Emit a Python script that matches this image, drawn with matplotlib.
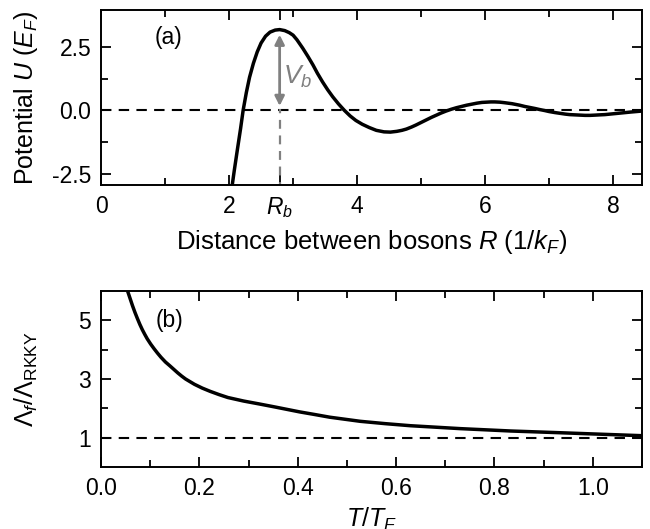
import numpy as np
import matplotlib
matplotlib.use("Agg")
import matplotlib.pyplot as plt
from matplotlib.ticker import MultipleLocator, FixedLocator

plt.rcParams['font.family'] = ['Liberation Sans', 'DejaVu Sans']
plt.rcParams['mathtext.fontset'] = 'custom'
plt.rcParams['mathtext.rm'] = 'Liberation Sans'
plt.rcParams['mathtext.it'] = 'Liberation Sans:italic'
plt.rcParams['mathtext.bf'] = 'Liberation Sans:bold'

# (a) potential between bosons
R = [2.03, 2.08, 2.13, 2.18, 2.22, 2.27, 2.32, 2.38, 2.44, 2.50, 2.57, 2.64,
     2.72, 2.79, 2.87, 2.94, 3.00, 3.06, 3.15, 3.23, 3.31, 3.38, 3.46, 3.54,
     3.62, 3.71, 3.80, 3.89, 3.98, 4.08, 4.19, 4.30, 4.42, 4.52, 4.62, 4.70,
     4.77, 4.85, 4.92, 5.00, 5.08, 5.16, 5.24, 5.31, 5.39, 5.47, 5.55, 5.63,
     5.71, 5.79, 5.87, 5.95, 6.02, 6.09, 6.15, 6.23, 6.30, 6.42, 6.54, 6.62,
     6.70, 6.78, 6.85, 6.93, 7.00, 7.09, 7.17, 7.25, 7.32, 7.40, 7.48, 7.56,
     7.64, 7.72, 7.79, 7.87, 7.95, 8.03, 8.11, 8.19, 8.27, 8.36, 8.45]
U = [-3.30, -2.40, -1.55, -0.72, 0.00, 0.70, 1.30, 1.85, 2.30, 2.65, 2.92, 3.08,
     3.16, 3.18, 3.14, 3.06, 2.96, 2.78, 2.45, 2.13, 1.79, 1.46, 1.12, 0.81,
     0.53, 0.25, 0.00, -0.22, -0.40, -0.55, -0.68, -0.79, -0.85, -0.86, -0.83, -0.79,
     -0.74, -0.66, -0.58, -0.48, -0.38, -0.28, -0.19, -0.11, -0.03, 0.04, 0.10, 0.15,
     0.20, 0.24, 0.28, 0.31, 0.32, 0.33, 0.33, 0.32, 0.30, 0.26, 0.20, 0.15,
     0.11, 0.07, 0.03, -0.01, -0.05, -0.09, -0.12, -0.15, -0.17, -0.18, -0.19, -0.20,
     -0.20, -0.19, -0.18, -0.17, -0.15, -0.13, -0.11, -0.09, -0.07, -0.05, -0.03]
Rb = 2.79

# (b) ratio of lengths vs temperature
T = [0.050, 0.054, 0.059, 0.064, 0.069, 0.074, 0.079, 0.084, 0.089, 0.094,
     0.101, 0.108, 0.115, 0.122, 0.131, 0.140, 0.148, 0.156, 0.164, 0.172,
     0.181, 0.190, 0.206, 0.222, 0.240, 0.258, 0.290, 0.322, 0.353, 0.380,
     0.404, 0.435, 0.465, 0.496, 0.527, 0.578, 0.629, 0.680, 0.731, 0.782,
     0.833, 0.884, 0.935, 1.00, 1.05, 1.10]
ratio = [6.40, 6.00, 5.75, 5.50, 5.27, 5.06, 4.86, 4.68, 4.52, 4.37,
         4.19, 4.03, 3.88, 3.74, 3.58, 3.45, 3.33, 3.21, 3.10, 3.00,
         2.91, 2.82, 2.69, 2.58, 2.47, 2.37, 2.25, 2.15, 2.05, 1.96,
         1.88, 1.79, 1.70, 1.63, 1.56, 1.48, 1.41, 1.36, 1.31, 1.27,
         1.23, 1.20, 1.17, 1.13, 1.10, 1.07]

fig = plt.figure(figsize=(6.5, 5.29), dpi=100)
ax1 = fig.add_axes([0.1554, 0.650, 0.8323, 0.331])
ax2 = fig.add_axes([0.1554, 0.117, 0.8323, 0.333])

for ax in (ax1, ax2):
    ax.tick_params(which='both', direction='in', top=True, right=True,
                   labelsize=16.5, width=1.3, pad=7)
    ax.tick_params(which='major', length=7)
    ax.tick_params(which='minor', length=5)
    for s in ax.spines.values():
        s.set_linewidth(1.4)

# top panel
ax1.axhline(0, color='k', ls=(0, (5, 3.5)), lw=1.5)
ax1.plot([Rb, Rb], [-3.2, 0.05], color='gray', ls=(0, (4, 3)), lw=1.6)
ax1.plot(R, U, color='k', lw=2.5)
ax1.annotate('', xy=(Rb, 2.98), xytext=(Rb, 0.17),
             arrowprops=dict(arrowstyle='<|-|>', color='gray', lw=2,
                             mutation_scale=14, shrinkA=0, shrinkB=0))
ax1.text(Rb + 0.05, 1.3, '$V_b$', color='gray', fontsize=19, va='center')
ax1.text(1.06, 2.85, '(a)', fontsize=16.5, ha='center', va='center')
ax1.set_xlim(0, 8.45)
ax1.set_ylim(-2.95, 3.95)
ax1.xaxis.set_major_locator(FixedLocator([0, 2, Rb, 4, 6, 8]))
ax1.set_xticklabels(['0', '2', '$R_b$', '4', '6', '8'])
ax1.xaxis.set_minor_locator(FixedLocator([1, 3, 5, 7]))
ax1.yaxis.set_major_locator(FixedLocator([-2.5, 0, 2.5]))
ax1.set_yticklabels(['-2.5', '0.0', '2.5'])
ax1.yaxis.set_minor_locator(FixedLocator([-1.25, 1.25]))
ax1.set_xlabel('Distance between bosons $R$ (1/$k_F$)', fontsize=18.5, labelpad=6)
ax1.set_ylabel('Potential $U$ ($E_F$)', fontsize=18)
ax1.yaxis.set_label_coords(-0.113, 0.5)

# bottom panel
ax2.axhline(1, color='k', ls=(0, (5, 3.5)), lw=1.5)
ax2.plot(T, ratio, color='k', lw=2.5)
ax2.text(0.14, 5.0, '(b)', fontsize=16.5, ha='center', va='center')
ax2.set_xlim(0, 1.1)
ax2.set_ylim(0, 6)
ax2.xaxis.set_major_locator(MultipleLocator(0.2))
ax2.xaxis.set_minor_locator(MultipleLocator(0.1))
ax2.yaxis.set_major_locator(FixedLocator([1, 3, 5]))
ax2.yaxis.set_minor_locator(FixedLocator([2, 4]))
ax2.set_xlabel('$T/T_F$', fontsize=18, labelpad=4)
ax2.set_ylabel(r'$\Lambda_f/\Lambda_{\rm RKKY}$', fontsize=18)
ax2.yaxis.set_label_coords(-0.113, 0.5)

fig.savefig('out.png', dpi=100)
